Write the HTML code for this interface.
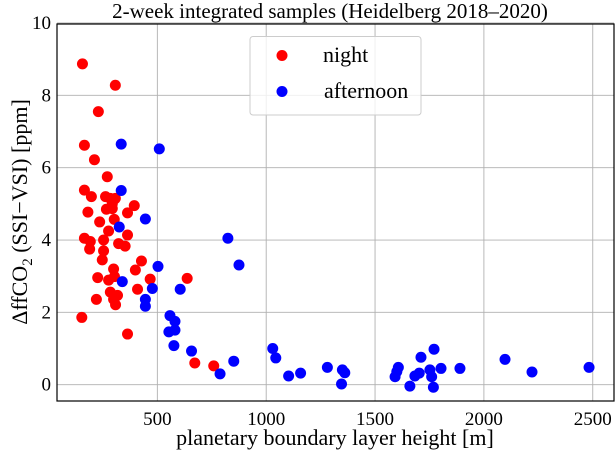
<!DOCTYPE html>
<html><head><meta charset="utf-8"><style>
body{margin:0;background:#fff;}
svg{display:block;}
text{font-family:"Liberation Serif","DejaVu Serif",serif;}
</style></head><body>
<svg id="chart" width="615" height="454" font-family="Liberation Serif, serif">
<text x="330" y="18" font-size="21" text-anchor="middle" font-family="Liberation Serif, serif">2-week integrated samples (Heidelberg 2018–2020)</text>
<g id="grid"></g>
<g id="xticks"></g>
<g id="yticks"></g>
<g id="points"></g>
<rect x="57" y="24" width="557" height="377" fill="none" stroke="#000" stroke-width="1.2"/>
<text x="335" y="445" font-size="22" text-anchor="middle" font-family="Liberation Serif, serif">planetary boundary layer height [m]</text>
<text transform="translate(27,212) rotate(-90)" font-size="22" text-anchor="middle" font-family="Liberation Serif, serif">ΔffCO<tspan font-size="15" dy="5">2</tspan><tspan dy="-5"> (SSI−VSI) [ppm]</tspan></text>
<g>
<rect x="250" y="36.5" width="171" height="78.5" rx="3" fill="#fff" fill-opacity="0.8" stroke="#ccc"/>
<circle cx="282" cy="55.5" r="5.5" fill="red"/>
<text x="323" y="62" font-size="22" font-family="Liberation Serif, serif">night</text>
<circle cx="282" cy="91.5" r="5.5" fill="blue"/>
<text x="324" y="98" font-size="22" font-family="Liberation Serif, serif">afternoon</text>
</g>
</svg>
<script>
const xTicks=[500,1000,1500,2000,2500];
const yTicks=[0,2,4,6,8,10];
const nightX=[156,307,229,165,211,270,165,197,262,284,293,266,307,293,181,235,302,363,394,276,363,165,192,253,189,253,322,352,247,427,399,299,226,276,303,467,637,409,284,317,220,299,308,153,363,672,759];
const nightY=[8.87,8.28,7.55,6.62,6.22,5.75,5.38,5.2,5.2,5.15,5.0,4.85,5.15,4.87,4.77,4.5,4.57,4.75,4.95,4.25,4.14,4.05,3.96,4.0,3.75,3.7,3.9,3.83,3.45,3.42,3.17,3.2,2.96,2.89,2.99,2.92,2.94,2.64,2.56,2.47,2.36,2.36,2.21,1.86,1.4,0.6,0.52];
const dayX=[334,509,334,445,325,824,875,503,339,477,605,445,445,558,581,581,553,576,657,851,788,1030,1044,1103,1158,1281,1350,1361,1346,1607,1592,1600,1711,1771,1683,1703,1752,1760,1660,1768,1803,1890,2097,2221,2483];
const dayY=[6.65,6.52,5.37,4.58,4.36,4.05,3.31,3.27,2.85,2.66,2.64,2.36,2.17,1.91,1.75,1.51,1.46,1.08,0.93,0.65,0.3,1.0,0.74,0.24,0.32,0.48,0.41,0.33,0.02,0.48,0.22,0.36,0.76,0.98,0.24,0.32,0.41,0.22,-0.04,-0.07,0.45,0.45,0.7,0.35,0.48];
const NS='http://www.w3.org/2000/svg';
const X0=57,X1=614,Y0=24,Y1=401;
function sx(v){return 48.5+v*0.2177;}
function sy(v){return 384.7-v*36.17;}
function mk(t,a,p){const e=document.createElementNS(NS,t);for(const k in a)e.setAttribute(k,a[k]);p.appendChild(e);return e;}
const grid=document.getElementById('grid'),xt=document.getElementById('xticks'),yt=document.getElementById('yticks'),pts=document.getElementById('points');
xTicks.forEach(v=>{const x=sx(v);
 const l=mk('line',{x1:x,x2:x,y1:Y0,y2:Y1,stroke:'#b0b0b0','stroke-width':0.9},grid);
 
 
 const t=mk('text',{x:x,y:425,'font-size':19,'text-anchor':'middle','font-family':'Liberation Serif, serif'},xt);t.textContent=v;
 
 
});
yTicks.forEach(v=>{const y=sy(v);
 const l=mk('line',{x1:X0,x2:X1,y1:y,y2:y,stroke:'#b0b0b0','stroke-width':0.9},grid);
 
 
 const t=mk('text',{x:51,y:y+6,'font-size':19,'text-anchor':'end','font-family':'Liberation Serif, serif'},yt);t.textContent=v;
 
 
});
nightX.forEach((v,i)=>{const c=mk('circle',{cx:sx(v),cy:sy(nightY[i]),r:5.5,fill:'red'},pts);
 
 
});
dayX.forEach((v,i)=>{const c=mk('circle',{cx:sx(v),cy:sy(dayY[i]),r:5.5,fill:'blue'},pts);
 
 
});
</script>
</body></html>
